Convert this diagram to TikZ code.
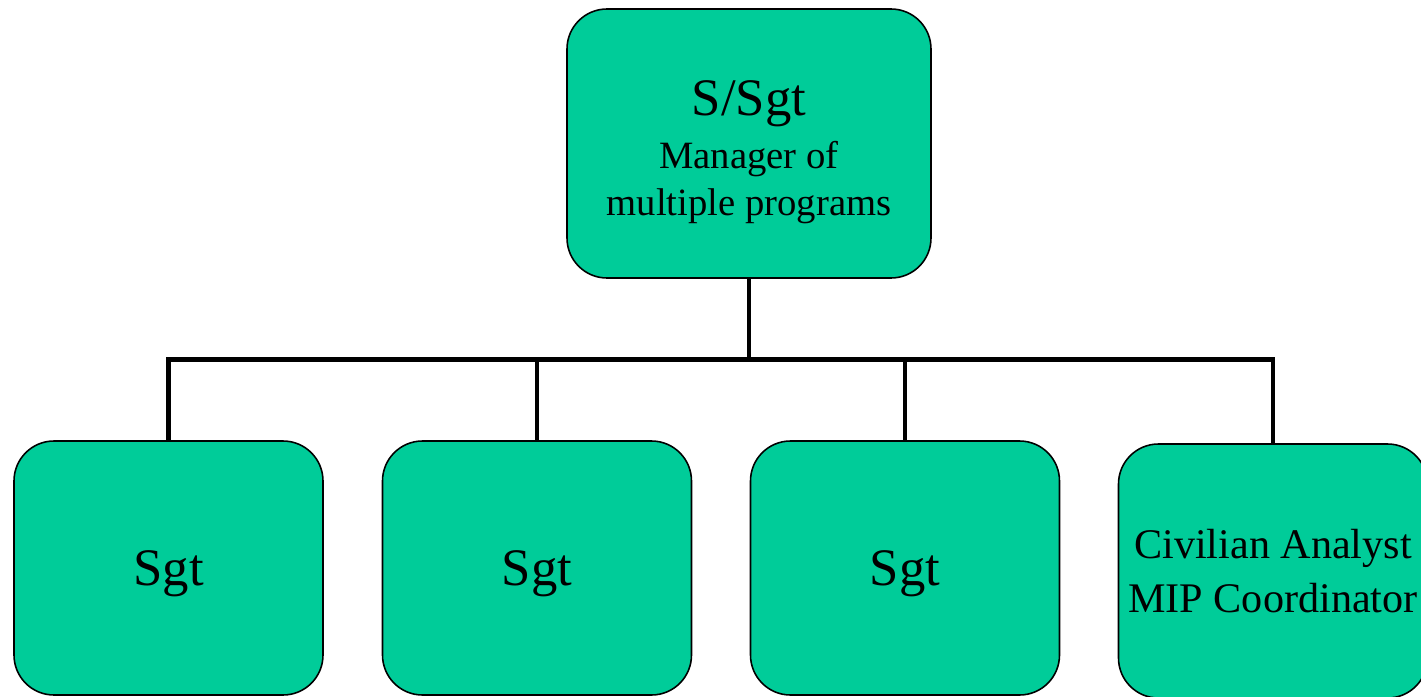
\documentclass[tikz,border=0pt]{standalone}
\usepackage{fontspec}
\setmainfont{Liberation Serif}
\usepackage{tikz}
\usetikzlibrary{positioning}
\usetikzlibrary{calc}
\definecolor{boxgreen}{RGB}{0,204,153}
\tikzstyle{rank}=[rectangle,rounded corners=0.8cm,fill=boxgreen,draw=black,line width=0.9pt,inner sep=0pt,align=center]
\tikzstyle{bigrank}=[rank,minimum width=7.28cm,minimum height=5.38cm]
\tikzstyle{smallrank}=[rank,minimum width=6.18cm,minimum height=5.08cm]
\tikzstyle{link} = [draw,line width=2.8pt]

\begin{document}
\begin{tikzpicture}
   \useasboundingbox (0,0) rectangle (28.42,-13.94);

   % manager on top
   \node[bigrank] (boss) at (14.98,-2.87)
        {\\[9pt]{\fontsize{30}{30}\selectfont S/Sgt}\\[7pt]
         {\fontsize{22}{26}\selectfont Manager of}\\[6pt]
         {\fontsize{22}{26}\selectfont multiple programs}};

   % the four under him
   \foreach \pos/\name/\label in {{(3.37,-11.36)/sgta/Sgt}, {(10.74,-11.36)/sgtb/Sgt}, {(18.10,-11.36)/sgtc/Sgt}}
        \node[smallrank,text depth=0pt] (\name) at \pos {\fontsize{30}{30}\selectfont \label};
   \node[smallrank] (civ) at (25.46,-11.42)
        {\fontsize{24}{29}\selectfont Civilian Analyst\\[8pt] \fontsize{24}{29}\selectfont MIP Coordinator};

    % Connect boss with the others
  \foreach \dest in {sgta, sgtb, sgtc, civ}
          \path[link] (boss.south) -- ++(0,-1.62) -| (\dest.north);

\end{tikzpicture}
\end{document}
